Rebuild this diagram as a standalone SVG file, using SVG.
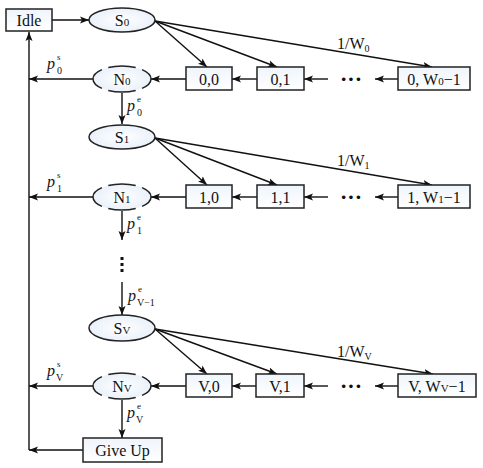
<svg xmlns="http://www.w3.org/2000/svg" width="483" height="468" viewBox="0 0 483 468">
<style>
text{font-family:"Liberation Serif","Times New Roman",serif;font-size:16px;fill:#111}
.c{text-anchor:middle}
.s{font-size:11px}
.sm{font-size:10px}
.tiny{font-size:9px}
.i{font-style:italic}
.box{fill:url(#g);stroke:#222;stroke-width:1.5}
.ell{fill:url(#g2);stroke:#222;stroke-width:1.5}
.nell{fill:url(#g2);stroke:#222;stroke-width:1.5;stroke-dasharray:10 5 20 5 20 5 20 5 10 0}
.ar{stroke:#111;stroke-width:1.4;fill:none;marker-end:url(#ah)}
</style>
<defs>
<linearGradient id="g" x1="0" y1="0" x2="0" y2="1"><stop offset="0" stop-color="#eff5fc"/><stop offset="1" stop-color="#ffffff"/></linearGradient>
<radialGradient id="g2"><stop offset="0" stop-color="#ffffff"/><stop offset="1" stop-color="#eaf1fa"/></radialGradient>
<marker id="ah" markerUnits="userSpaceOnUse" markerWidth="10" markerHeight="8" refX="9" refY="4" orient="auto"><path d="M0,0.5 L9,4 L0,7.5 L2,4 z" fill="#111"/></marker>
</defs>

<g id="connectors">
<path class="ar" d="M52,20 H89"/>
<path class="ar" d="M29,450 V32"/>
<path class="ar" d="M155,21 L207,67"/>
<path class="ar" d="M155,21 L277,67"/>
<path class="ar" d="M155,21 L432,67"/>
<path class="ar" d="M257,79 H232"/>
<path class="ar" d="M328,79 H304"/>
<path class="ar" d="M398,79 H375"/>
<path class="ar" d="M186,79 H151"/>
<path class="ar" d="M93,79 H29"/>
<path class="ar" d="M122,93 V124"/>
<path class="ar" d="M155,138 L207,185"/>
<path class="ar" d="M155,138 L277,185"/>
<path class="ar" d="M155,138 L432,185"/>
<path class="ar" d="M257,197 H232"/>
<path class="ar" d="M328,197 H304"/>
<path class="ar" d="M398,197 H375"/>
<path class="ar" d="M186,197 H151"/>
<path class="ar" d="M93,197 H29"/>
<path class="ar" d="M122,211 V240"/>
<path class="ar" d="M122,282 V315"/>
<path class="ar" d="M155,329 L207,374"/>
<path class="ar" d="M155,329 L277,374"/>
<path class="ar" d="M155,329 L433,374"/>
<path class="ar" d="M257,386 H232"/>
<path class="ar" d="M328,386 H304"/>
<path class="ar" d="M398,386 H375"/>
<path class="ar" d="M186,386 H151"/>
<path class="ar" d="M93,386 H29"/>
<path class="ar" d="M122,400 V438"/>
<path class="ar" d="M83,450 H29"/>
</g>

<g id="labels">
<text x="337" y="49">1/W<tspan class="sm" dy="3">0</tspan></text>
<text x="337" y="166">1/W<tspan class="sm" dy="3">1</tspan></text>
<text x="337" y="357">1/W<tspan class="sm" dy="3">V</tspan></text>
<text class="i" x="47" y="69">p</text><text class="tiny" x="57" y="60">s</text><text class="sm" x="57" y="74">0</text>
<text class="i" x="47" y="187">p</text><text class="tiny" x="57" y="178">s</text><text class="sm" x="57" y="192">1</text>
<text class="i" x="47" y="376">p</text><text class="tiny" x="57" y="367">s</text><text class="sm" x="56" y="381">V</text>
<text class="i" x="127" y="111">p</text><text class="tiny" x="137" y="102">e</text><text class="sm" x="137" y="116">0</text>
<text class="i" x="127" y="229">p</text><text class="tiny" x="137" y="220">e</text><text class="sm" x="137" y="234">1</text>
<text class="i" x="128" y="301">p</text><text class="tiny" x="138" y="292">e</text><text class="sm" x="137" y="306">V−1</text>
<text class="i" x="127" y="418">p</text><text class="tiny" x="137" y="409">e</text><text class="sm" x="136" y="423">V</text>
<text x="351" y="86" class="c" style="font-size:22px;font-weight:bold">···</text>
<text x="351" y="204" class="c" style="font-size:22px;font-weight:bold">···</text>
<text x="351" y="393" class="c" style="font-size:22px;font-weight:bold">···</text>
<rect x="120.5" y="257" width="3" height="3" fill="#111"/>
<rect x="120.5" y="263" width="3" height="3" fill="#111"/>
<rect x="120.5" y="269" width="3" height="3" fill="#111"/>
</g>

<g id="idle"><rect class="box" x="6" y="9" width="46" height="22"/><text class="c" x="29" y="26">Idle</text></g>
<g id="giveup"><rect class="box" x="83" y="438" width="79" height="24"/><text class="c" x="122.5" y="456">Give Up</text></g>

<g id="S0"><ellipse class="ell" cx="122" cy="20" rx="33" ry="12"/><text class="c" x="122" y="26">S<tspan class="s">0</tspan></text></g>
<g id="N0"><ellipse class="nell" cx="122" cy="79" rx="29" ry="13" pathLength="100"/><text class="c" x="122" y="85">N<tspan class="s">0</tspan></text></g>
<g id="b00"><rect class="box" x="186" y="67" width="46" height="23"/><text class="c" x="209" y="85">0,0</text></g>
<g id="b01"><rect class="box" x="257" y="67" width="47" height="23"/><text class="c" x="280.5" y="85">0,1</text></g>
<g id="b0w"><rect class="box" x="398" y="67" width="72" height="23"/><text class="c" x="434" y="85">0, W<tspan class="s">0</tspan>−1</text></g>

<g id="S1"><ellipse class="ell" cx="122" cy="137" rx="33" ry="12"/><text class="c" x="122" y="143">S<tspan class="s">1</tspan></text></g>
<g id="N1"><ellipse class="nell" cx="122" cy="197" rx="29" ry="13" pathLength="100"/><text class="c" x="122" y="203">N<tspan class="s">1</tspan></text></g>
<g id="b10"><rect class="box" x="186" y="185" width="46" height="23"/><text class="c" x="209" y="203">1,0</text></g>
<g id="b11"><rect class="box" x="257" y="185" width="47" height="23"/><text class="c" x="280.5" y="203">1,1</text></g>
<g id="b1w"><rect class="box" x="398" y="185" width="72" height="23"/><text class="c" x="434" y="203">1, W<tspan class="s">1</tspan>−1</text></g>

<g id="SV"><ellipse class="ell" cx="122" cy="328" rx="33" ry="13"/><text class="c" x="122" y="334">S<tspan class="s">V</tspan></text></g>
<g id="NV"><ellipse class="nell" cx="122" cy="386" rx="29" ry="13" pathLength="100"/><text class="c" x="122" y="392">N<tspan class="s">V</tspan></text></g>
<g id="bV0"><rect class="box" x="186" y="374" width="46" height="23"/><text class="c" x="209" y="392">V,0</text></g>
<g id="bV1"><rect class="box" x="256" y="374" width="48" height="23"/><text class="c" x="280" y="392">V,1</text></g>
<g id="bVw"><rect class="box" x="398" y="374" width="78" height="23"/><text class="c" x="437" y="392">V, W<tspan class="s">V</tspan>−1</text></g>
</svg>
